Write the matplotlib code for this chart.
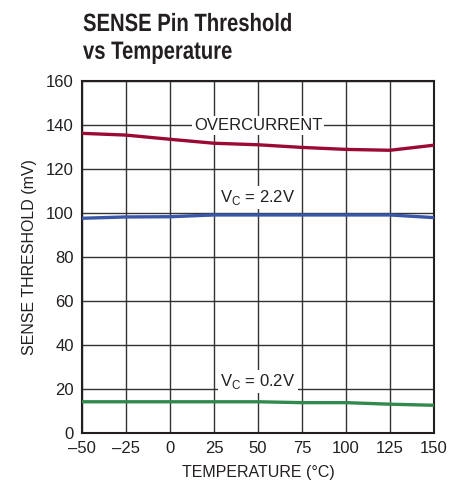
import matplotlib
matplotlib.use("Agg")
import matplotlib.pyplot as plt
from matplotlib.patheffects import AbstractPathEffect
from matplotlib.transforms import Affine2D

temp = [-50, -25, 0, 25, 50, 75, 100, 125, 150]
overcurrent = [136.2, 135.4, 133.5, 131.7, 131.0, 129.8, 128.9, 128.5, 130.8]
vc_22 = [97.6, 98.2, 98.3, 99.1, 99.1, 99.1, 99.1, 99.1, 97.9]
vc_02 = [14.2, 14.2, 14.2, 14.2, 14.2, 13.8, 13.8, 13.1, 12.6]

xticks = [-50, -25, 0, 25, 50, 75, 100, 125, 150]
yticks = [0, 20, 40, 60, 80, 100, 120, 140, 160]


class Condense(AbstractPathEffect):
    def __init__(self, sx):
        super().__init__()
        self.sx = sx

    def draw_path(self, renderer, gc, tpath, affine, rgbFace=None):
        renderer.draw_path(gc, tpath, Affine2D().scale(self.sx, 1) + affine, rgbFace)


FONT = ['Liberation Sans', 'DejaVu Sans']
plt.rcParams['font.family'] = FONT

fig = plt.figure(figsize=(4.69, 4.91), dpi=100)
ax = fig.add_axes([0.1748, 0.1181, 0.7505, 0.717])

ax.plot(temp, overcurrent, color='#9b0a35', lw=2.4, solid_capstyle='butt', zorder=3)
ax.plot(temp, vc_22, color='#3a56a8', lw=2.4, solid_capstyle='butt', zorder=3)
ax.plot(temp, vc_02, color='#2f8a4c', lw=2.4, solid_capstyle='butt', zorder=3)

ax.set_xlim(-50, 150)
ax.set_ylim(0, 160)
ax.set_xticks(xticks)
ax.set_yticks(yticks)
ax.set_xticklabels([f"\u2013{abs(v)}" if v < 0 else str(v) for v in xticks])
ax.grid(True, color='#333333', lw=1.0, zorder=1)
ax.tick_params(length=0, labelsize=12, colors='#231f20', pad=6)
for s in ax.spines.values():
    s.set_linewidth(1.5)
    s.set_color('#231f20')

bbox = dict(facecolor='white', edgecolor='none', pad=1.5)
ax.text(50, 139.8, 'OVERCURRENT', ha='center', va='center', fontsize=12,
        color='#231f20', bbox=bbox, zorder=2)
ax.text(50, 107.0, r'V$_\mathregular{C}$ = 2.2V', ha='center', va='center', fontsize=12,
        color='#231f20', bbox=bbox, zorder=2)
ax.text(50, 23.5, r'V$_\mathregular{C}$ = 0.2V', ha='center', va='center', fontsize=12,
        color='#231f20', bbox=bbox, zorder=2)

ax.set_xlabel('TEMPERATURE (\u00b0C)', fontsize=11.5, color='#231f20', labelpad=6)
ax.set_ylabel('SENSE THRESHOLD (mV)', fontsize=11.5, color='#231f20', labelpad=6)

fig.text(83 / 469, 1 - 12 / 491, 'SENSE Pin Threshold\nvs Temperature', ha='left', va='top',
         fontsize=18, fontweight='bold', color='#231f20', linespacing=1.2,
         path_effects=[Condense(0.81)])

fig.savefig('out.png', dpi=100)
